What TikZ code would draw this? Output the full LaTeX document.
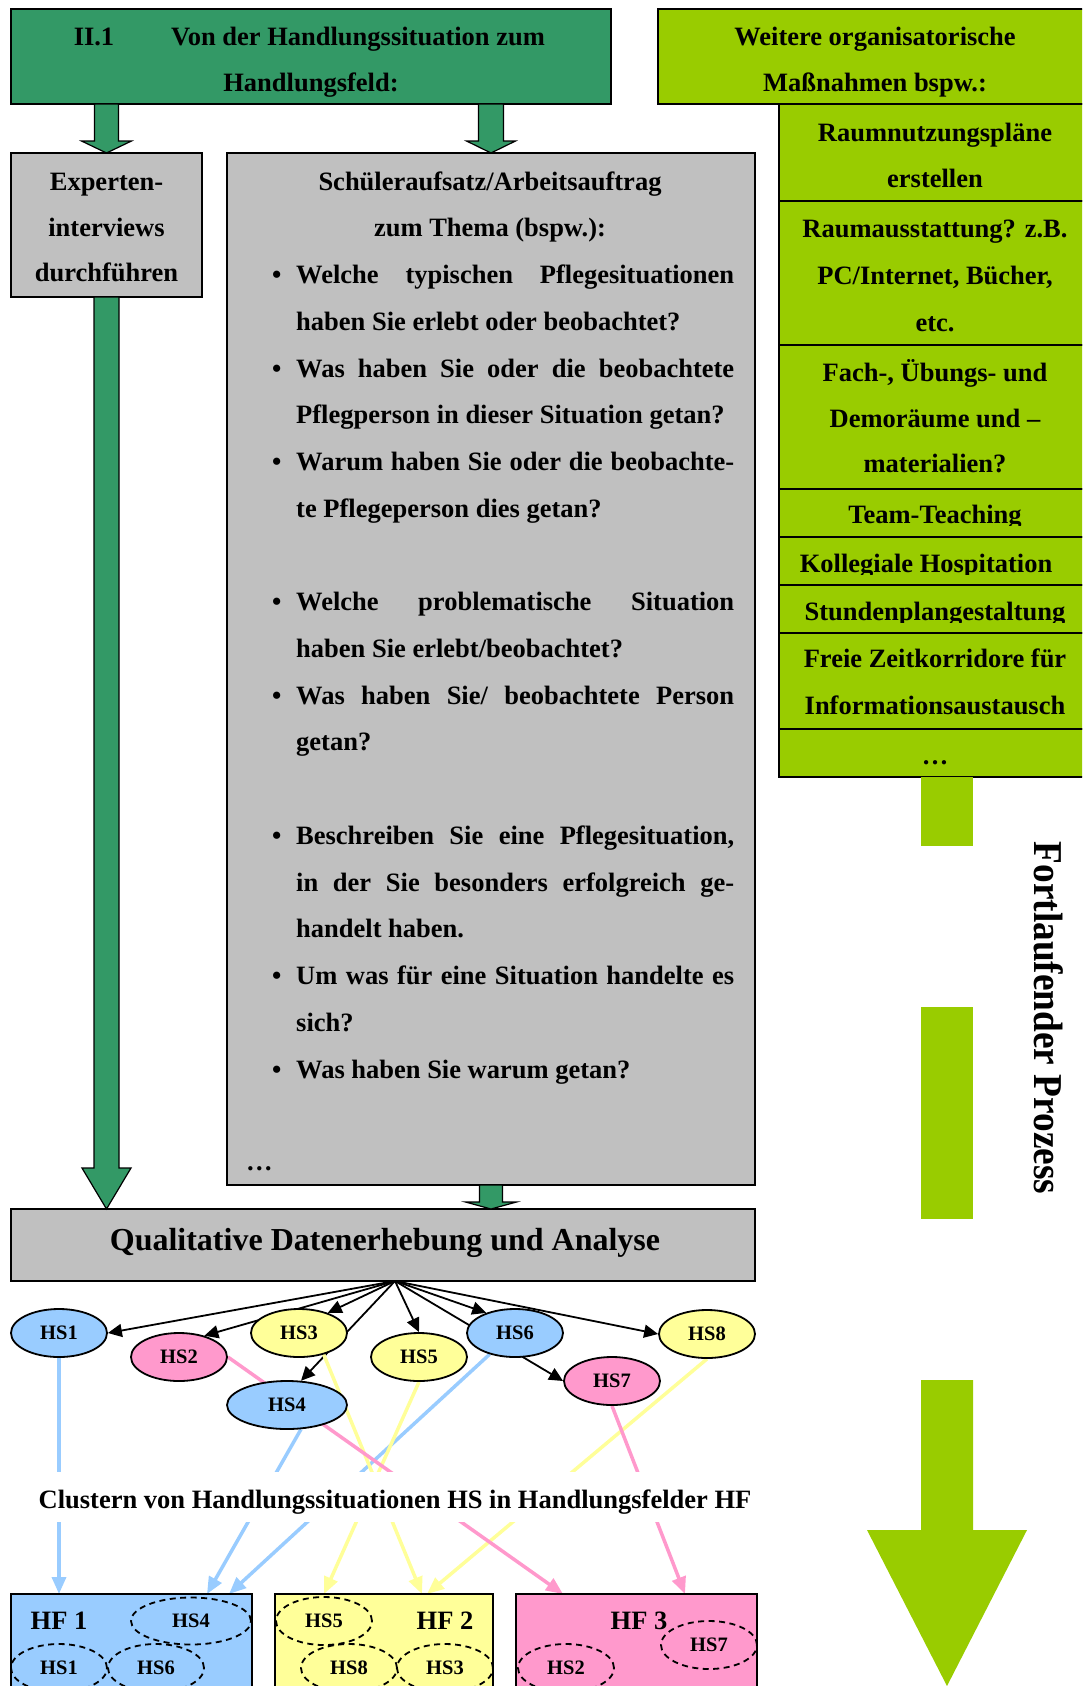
\documentclass[tikz,border=0pt]{standalone}
\usepackage{fontspec}
\setmainfont{Liberation Serif}
\usetikzlibrary{calc,arrows.meta,shapes.geometric}

\definecolor{cGreen}{HTML}{339966}
\definecolor{cLime}{HTML}{99CC00}
\definecolor{cGray}{HTML}{C0C0C0}
\definecolor{cBlue}{HTML}{99CCFF}
\definecolor{cPink}{HTML}{FF99CC}
\definecolor{cYellow}{HTML}{FFFF99}

\pgfdeclarelayer{links}
\pgfsetlayers{links,main}

% block arrow pointing down: style, start, end, half shaft, half head, head length
\newcommand\fatarrow[6]{%
  \draw[#1] let \p1=(#2), \p2=(#3) in
    (\x1-#4pt,\y1) -- (\x1-#4pt,\y2+#6pt) -- (\x1-#5pt,\y2+#6pt) -- (\x1,\y2)
    -- (\x1+#5pt,\y2+#6pt) -- (\x1+#4pt,\y2+#6pt) -- (\x1+#4pt,\y1) -- cycle;}
\newcommand\jline[1]{\makebox[438pt][s]{#1}}
\newcommand\bul{\makebox[24pt][l]{\textbullet}}

\tikzset{
  box/.style={draw, line width=2pt, rectangle, inner sep=0pt, outer sep=0pt, anchor=north west},
  txt/.style={inner sep=0pt, anchor=base, font=\fontsize{26.5}{46.7}\selectfont\bfseries},
  hsnode/.style={ellipse, draw, line width=1.8pt, inner sep=0pt, minimum width=96pt,
    minimum height=48pt, font=\fontsize{20.5}{20.5}\selectfont\bfseries},
  hsdash/.style={hsnode, dash pattern=on 6pt off 4.5pt},
  link/.style={line width=1.8pt, -{Triangle[length=14pt,width=13pt]}},
  clink/.style={line width=3.5pt, -{Triangle[length=17pt,width=14pt]}},
  fatgreen/.style={fill=cGreen, draw=black, line width=1.2pt, line join=miter},
}

\begin{document}
\begin{tikzpicture}[x=1pt, y=-1pt]
\useasboundingbox (0,0) rectangle (1082,1686);
\clip (0,0) rectangle (1082,1686);

% ---------- header boxes ----------
\node[box, fill=cGreen, minimum width=600pt, minimum height=95pt] (top) at (11,9) {};
\node[txt] (topA) at (94,46) {II.1};
\node[txt] (topB) at (358,46) {Von der Handlungssituation zum};
\node[txt] (topC) at (311,91) {Handlungsfeld:};

\node[box, fill=cLime, minimum width=432pt, minimum height=95pt] (org) at (658,9) {};
\node[txt] (orgA) at (875,46) {Weitere organisatorische};
\node[txt] (orgB) at (875,91) {Maßnahmen bspw.:};

% ---------- column of organisational measures ----------
\node[box, fill=cLime, minimum width=311pt, minimum height=97pt]  (r1) at (779,104) {};
\node[box, fill=cLime, minimum width=311pt, minimum height=144pt] (r2) at (779,201) {};
\node[box, fill=cLime, minimum width=311pt, minimum height=144pt] (r3) at (779,345) {};
\node[box, fill=cLime, minimum width=311pt, minimum height=48pt]  (r4) at (779,489) {};
\node[box, fill=cLime, minimum width=311pt, minimum height=48pt]  (r5) at (779,537) {};
\node[box, fill=cLime, minimum width=311pt, minimum height=48pt]  (r6) at (779,585) {};
\node[box, fill=cLime, minimum width=311pt, minimum height=96pt]  (r7) at (779,633) {};
\node[box, fill=cLime, minimum width=311pt, minimum height=48pt]  (r8) at (779,729) {};

\node[txt] (r1a) at (935,141) {Raumnutzungspläne};
\node[txt] (r1b) at (935,187) {erstellen};
\node[txt] (r2a) at (935,237) {Raumausstattung? z.B.};
\node[txt] (r2b) at (935,284) {PC/Internet, Bücher,};
\node[txt] (r2c) at (935,331) {etc.};
\node[txt] (r3a) at (935,381) {Fach-, Übungs- und};
\node[txt] (r3b) at (935,427) {Demoräume und --};
\node[txt] (r3c) at (935,472) {materialien?};
\begin{scope}
  \clip (r4.north west) rectangle ($(r4.north east)+(0,36)$);
  \node[txt] (r4a) at (935,523.5) {Team-Teaching};
\end{scope}
\begin{scope}
  \clip (r5.north west) rectangle ($(r5.north east)+(0,37)$);
  \node[txt] (r5a) at (926,572.5) {Kollegiale Hospitation};
\end{scope}
\begin{scope}
  \clip (r6.north west) rectangle ($(r6.north east)+(0,37)$);
  \node[txt] (r6a) at (935,620.2) {Stundenplangestaltung};
\end{scope}
\node[txt] (r7a) at (935,667.5) {Freie Zeitkorridore für};
\node[txt] (r7b) at (935,714) {Informationsaustausch};
\node[txt] (r8a) at (935,764) {…};

% ---------- continuous process arrow ----------
\coordinate (pa) at ($(r8.south west)+(168,0)$);
\coordinate (pz) at (947,1686);
\fill[cLime] ($(pa)+(-26,0)$) rectangle ($(pa)+(26,69)$);
\fill[cLime] ($(pa)+(-26,230)$) rectangle ($(pa)+(26,442)$);
\fill[cLime] ($(pa)+(-26,603)$) -- ($(pa)+(26,603)$) -- ($(pa)+(26,753)$)
  -- ($(pa)+(80,753)$) -- (pz) -- ($(pa)+(-80,753)$) -- ($(pa)+(-26,753)$) -- cycle;
\node[rotate=-90, anchor=base, inner sep=0pt] (proc) at (1034,1018)
  {\scalebox{0.91}[1]{\fontsize{41}{41}\selectfont\bfseries Fortlaufender Prozess}};

% ---------- expert interviews ----------
\node[box, fill=cGray, minimum width=191pt, minimum height=144pt] (exp) at (11,153) {};
\node[txt] (expA) at (106.5,190) {Experten-};
\node[txt] (expB) at (106.5,236) {interviews};
\node[txt] (expC) at (106.5,281) {durchführen};

% ---------- essay assignment ----------
\node[box, fill=cGray, minimum width=528pt, minimum height=1032pt] (sch) at (227,153) {};
\node[txt] (s0) at (490,190) {Schüleraufsatz/Arbeitsauftrag};
\node[txt] (s1) at (490,236.7) {zum Thema (bspw.):};
\node[txt, anchor=base west] (s2) at (272,283.5) {\bul\jline{Welche typischen Pflegesituationen}};
\node[txt, anchor=base west] (s3) at (296,330.2) {haben Sie erlebt oder beobachtet?};
\node[txt, anchor=base west] (s4) at (272,377) {\bul\jline{Was haben Sie oder die beobachtete}};
\node[txt, anchor=base west] (s5) at (296,423.7) {Pflegperson in dieser Situation getan?};
\node[txt, anchor=base west] (s6) at (272,470.4) {\bul\jline{Warum haben Sie oder die beobachte-}};
\node[txt, anchor=base west] (s7) at (296,517.2) {te Pflegeperson dies getan?};
\node[txt, anchor=base west] (s9) at (272,610.7) {\bul\jline{Welche problematische Situation}};
\node[txt, anchor=base west] (s10) at (296,657.4) {haben Sie erlebt/beobachtet?};
\node[txt, anchor=base west] (s11) at (272,704.1) {\bul\jline{Was haben Sie/ beobachtete Person}};
\node[txt, anchor=base west] (s12) at (296,750.9) {getan?};
\node[txt, anchor=base west] (s14) at (272,844.4) {\bul\jline{Beschreiben Sie eine Pflegesituation,}};
\node[txt, anchor=base west] (s15) at (296,891.1) {\jline{in der Sie besonders erfolgreich ge-}};
\node[txt, anchor=base west] (s16) at (296,937.8) {handelt haben.};
\node[txt, anchor=base west] (s17) at (272,984.6) {\bul\jline{Um was für eine Situation handelte es}};
\node[txt, anchor=base west] (s18) at (296,1031.3) {sich?};
\node[txt, anchor=base west] (s19) at (272,1078.1) {\bul Was haben Sie warum getan?};
\node[txt, anchor=base west] (s21) at (246,1170) {…};

% ---------- data collection ----------
\node[box, fill=cGray, minimum width=744pt, minimum height=72pt] (qda) at (11,1209) {};
\node[txt, font=\fontsize{32}{32}\selectfont\bfseries] (qdaT) at (385,1250)
  {Qualitative Datenerhebung und Analyse};

% ---------- green block arrows ----------
\fatarrow{fatgreen}{exp.north |- top.south}{exp.north}{12}{25}{12}
\fatarrow{fatgreen}{sch.north |- top.south}{sch.north}{12.5}{24.5}{12}
\fatarrow{fatgreen}{exp.south}{exp.south |- qda.north}{12.5}{24.5}{41}
\fatarrow{fatgreen}{sch.south}{sch.south |- qda.north}{11.5}{25.5}{7}

% ---------- situations ----------
\node[hsnode, fill=cBlue]   (hs1) at (59,1333) {HS1};
\node[hsnode, fill=cPink]   (hs2) at (179,1357) {HS2};
\node[hsnode, fill=cYellow] (hs3) at (299,1333) {HS3};
\node[hsnode, fill=cBlue, minimum width=120pt] (hs4) at (287,1405) {HS4};
\node[hsnode, fill=cYellow] (hs5) at (419,1357) {HS5};
\node[hsnode, fill=cBlue]   (hs6) at (515,1333) {HS6};
\node[hsnode, fill=cPink]   (hs7) at (612,1381) {HS7};
\node[hsnode, fill=cYellow] (hs8) at (707,1334) {HS8};

% ---------- fields of action ----------
\node[box, fill=cBlue,   minimum width=241pt, minimum height=120pt] (hf1) at (11,1594) {};
\node[box, fill=cYellow, minimum width=218pt, minimum height=120pt] (hf2) at (275,1594) {};
\node[box, fill=cPink,   minimum width=241pt, minimum height=120pt] (hf3) at (516,1594) {};
\node[txt] (hf1T) at (59,1629) {HF 1};
\node[txt] (hf2T) at (445,1629) {HF 2};
\node[txt] (hf3T) at (639,1629) {HF 3};

\node[hsdash, minimum width=120pt, minimum height=47pt] (d4) at (191,1621) {HS4};
\node[hsdash] (d1) at (59,1668) {HS1};
\node[hsdash] (d6) at (156,1668) {HS6};
\node[hsdash] (d5) at (324,1621) {HS5};
\node[hsdash] (d8) at (349,1668) {HS8};
\node[hsdash] (d3) at (445,1668) {HS3};
\node[hsdash] (d7) at (709,1645) {HS7};
\node[hsdash] (d2) at (566,1668) {HS2};

% ---------- clustering label ----------
\node[fill=white, inner sep=0pt, minimum width=735pt, minimum height=50pt] (band) at (392,1497) {};
\node[txt] (cluT) at (395,1508) {Clustern von Handlungssituationen HS in Handlungsfelder HF};

% ---------- connectors (drawn beneath the nodes) ----------
\begin{pgfonlayer}{links}
  \coordinate (hub) at ($(qda.south west)+(384,0)$);
  \draw[link] (hub) -- (hs1.east);
  \draw[link] (hub) -- (hs2.40);
  \draw[link] (hub) -- (hs3.35);
  \draw[link] (hub) -- (hs4.60);
  \draw[link] (hub) -- (hs5.north);
  \draw[link] (hub) -- (hs6.145);
  \draw[link] (hub) -- (hs7.west);
  \draw[link] (hub) -- (hs8.west);

  \coordinate (t1) at (hs1.south |- hf1.north);
  \coordinate (t4) at ($(hf1.north west)+(196,0)$);
  \coordinate (t6) at ($(hf1.north west)+(218,0)$);
  \coordinate (t5) at ($(hf2.north west)+(49,0)$);
  \coordinate (t3) at ($(hf2.north west)+(147,0)$);
  \coordinate (t8) at ($(hf2.north west)+(152,0)$);
  \coordinate (t2) at ($(hf3.north west)+(47,0)$);
  \coordinate (t7) at ($(hf3.north west)+(169,0)$);

  \draw[clink, cBlue]   (hs1.south) -- (t1);
  \draw[clink, cBlue]   (hs4.-60)   -- (t4);
  \draw[clink, cBlue]   (hs6.220)   -- (t6);
  \draw[clink, cYellow] (hs3.-41)   -- (t3);
  \draw[clink, cYellow] (hs5.south) -- (t5);
  \draw[clink, cYellow] (hs8.south) -- (t8);
  \draw[clink, cPink]   (hs2.east)  -- (t2);
  \draw[clink, cPink]   (hs7.south) -- (t7);
\end{pgfonlayer}
\end{tikzpicture}
\end{document}
